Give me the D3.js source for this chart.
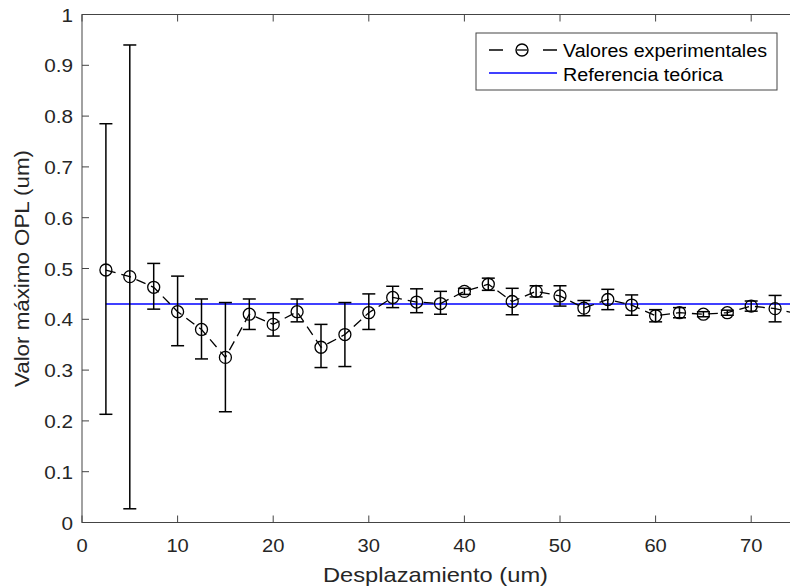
<!DOCTYPE html>
<html>
<head>
<meta charset="utf-8">
<script src="https://cdn.jsdelivr.net/npm/d3@7"></script>
<style>
  body { margin: 0; background: #fff; }
  text { font-family: "Liberation Sans", Arial, sans-serif; }
</style>
</head>
<body>
<div id="chart"></div>
<script>
const width = 790
const height = 587
const margin = { left: 82, top: 14, bottom: 64 }

// desplazamiento (um)
const desplazamiento = [2.5, 5, 7.5, 10, 12.5, 15, 17.5, 20, 22.5, 25, 27.5, 30, 32.5, 35, 37.5, 40,
    42.5, 45, 47.5, 50, 52.5, 55, 57.5, 60, 62.5, 65, 67.5, 70, 72.5, 75]
const valorMax = [0.497, 0.484, 0.463, 0.415, 0.38, 0.325, 0.41, 0.39, 0.415, 0.345, 0.37, 0.413, 0.443,
    0.434, 0.431, 0.455, 0.469, 0.435, 0.455, 0.446, 0.422, 0.439, 0.428, 0.407, 0.413, 0.41, 0.413, 0.426, 0.421, 0.41]
const errorSup = [0.785, 0.94, 0.51, 0.485, 0.44, 0.433, 0.44, 0.413, 0.44, 0.39, 0.433, 0.45, 0.465,
    0.46, 0.455, 0.461, 0.481, 0.461, 0.466, 0.466, 0.437, 0.459, 0.448, 0.419, 0.423, 0.415, 0.418, 0.436, 0.447, 0.43]
const errorInf = [0.213, 0.027, 0.42, 0.348, 0.322, 0.218, 0.38, 0.367, 0.395, 0.305, 0.307, 0.38, 0.423,
    0.413, 0.41, 0.449, 0.457, 0.409, 0.444, 0.426, 0.407, 0.419, 0.408, 0.395, 0.403, 0.405, 0.408, 0.416, 0.395, 0.39]
const referencia = 0.43
const xTicks = [0, 10, 20, 30, 40, 50, 60, 70]
const yTicks = [0, 0.1, 0.2, 0.3, 0.4, 0.5, 0.6, 0.7, 0.8, 0.9, 1]

const data = desplazamiento.map((d, i) => ({ x: d, y: valorMax[i], hi: errorSup[i], lo: errorInf[i] }))

const axisColor = "#444"
const textColor = "#262626"
const stretch = 1.12   // the original text is a bit wider than Liberation Sans

const svg = d3.select("#chart").append("svg").attr("width", width).attr("height", height)

// plot area runs past the right edge of the picture
var x = d3.scaleLinear().domain([0, 80]).range([margin.left, margin.left + 8 * 95.6])
var y = d3.scaleLinear().domain([0, 1]).range([height - margin.bottom - 0.5, margin.top + 0.5])

const x0 = x(0), x1 = x(80), yTop = y(1), yBot = y(0)

// box
svg.append("rect")
    .attr("x", x0).attr("y", yTop).attr("width", x1 - x0).attr("height", yBot - yTop)
    .attr("fill", "none").attr("stroke", axisColor).attr("stroke-width", 1)

// ticks
const tickLen = 7
svg.selectAll(".xt").data(xTicks).join("line")
    .attr("x1", d => x(d)).attr("x2", d => x(d)).attr("y1", yBot).attr("y2", yBot - tickLen)
    .attr("stroke", axisColor)
svg.selectAll(".xtt").data(xTicks).join("line")
    .attr("x1", d => x(d)).attr("x2", d => x(d)).attr("y1", yTop).attr("y2", yTop + tickLen)
    .attr("stroke", axisColor)
svg.selectAll(".yt").data(yTicks).join("line")
    .attr("x1", x0).attr("x2", x0 + tickLen).attr("y1", d => y(d)).attr("y2", d => y(d))
    .attr("stroke", axisColor)

svg.selectAll(".xl").data(xTicks).join("text")
    .attr("transform", d => `translate(${x(d)}, 552) scale(${stretch},1)`)
    .attr("text-anchor", "middle").attr("font-size", 18).attr("fill", textColor)
    .text(d => d)
svg.selectAll(".yl").data(yTicks).join("text")
    .attr("transform", d => `translate(73, ${y(d) + 7}) scale(${stretch},1)`)
    .attr("text-anchor", "end").attr("font-size", 18.5).attr("fill", textColor)
    .text(d => d)

svg.append("text")
    .attr("x", 435.5).attr("y", 582)
    .attr("text-anchor", "middle").attr("font-size", 21).attr("fill", textColor)
    .attr("textLength", 225).attr("lengthAdjust", "spacingAndGlyphs")
    .text("Desplazamiento (um)")
svg.append("text")
    .attr("transform", `translate(29, 268.5) rotate(-90)`)
    .attr("text-anchor", "middle").attr("font-size", 21).attr("fill", textColor)
    .attr("textLength", 237).attr("lengthAdjust", "spacingAndGlyphs")
    .text("Valor máximo OPL (um)")

const plot = svg.append("g")

// reference line
plot.append("line")
    .attr("x1", x(desplazamiento[0])).attr("x2", x1)
    .attr("y1", y(referencia)).attr("y2", y(referencia))
    .attr("stroke", "#0000ff").attr("stroke-width", 1.5)

// dashed connecting line
plot.append("path")
    .datum(data)
    .attr("d", d3.line().x(d => x(d.x)).y(d => y(d.y)))
    .attr("fill", "none").attr("stroke", "#000").attr("stroke-width", 1.3)
    .attr("stroke-dasharray", "10,6")

// error bars
const cap = 6.5
const eb = plot.selectAll(".eb").data(data).join("g")
eb.append("line")
    .attr("x1", d => x(d.x)).attr("x2", d => x(d.x))
    .attr("y1", d => y(d.hi)).attr("y2", d => y(d.lo))
    .attr("stroke", "#000").attr("stroke-width", 1.5)
eb.append("line")
    .attr("x1", d => x(d.x) - cap).attr("x2", d => x(d.x) + cap)
    .attr("y1", d => y(d.hi)).attr("y2", d => y(d.hi))
    .attr("stroke", "#000").attr("stroke-width", 1.5)
eb.append("line")
    .attr("x1", d => x(d.x) - cap).attr("x2", d => x(d.x) + cap)
    .attr("y1", d => y(d.lo)).attr("y2", d => y(d.lo))
    .attr("stroke", "#000").attr("stroke-width", 1.5)

// markers
plot.selectAll("circle").data(data).join("circle")
    .attr("cx", d => x(d.x)).attr("cy", d => y(d.y)).attr("r", 6)
    .attr("fill", "none").attr("stroke", "#000").attr("stroke-width", 1.3)

// legend
const lg = svg.append("g").attr("transform", "translate(476,33)")
lg.append("rect").attr("width", 301).attr("height", 57)
    .attr("fill", "#fff").attr("stroke", axisColor).attr("stroke-width", 1)
lg.append("line").attr("x1", 13).attr("x2", 27).attr("y1", 17).attr("y2", 17).attr("stroke", "#000").attr("stroke-width", 1.5)
lg.append("line").attr("x1", 67).attr("x2", 81).attr("y1", 17).attr("y2", 17).attr("stroke", "#000").attr("stroke-width", 1.5)
lg.append("circle").attr("cx", 46).attr("cy", 17).attr("r", 6).attr("fill", "none").attr("stroke", "#000").attr("stroke-width", 1.4)
lg.append("line").attr("x1", 46 - 5).attr("x2", 46 + 5).attr("y1", 17).attr("y2", 17).attr("stroke", "#000").attr("stroke-width", 1.3)
lg.append("line").attr("x1", 13).attr("x2", 81).attr("y1", 40).attr("y2", 40).attr("stroke", "#0000ff").attr("stroke-width", 1.5)
lg.append("text").attr("x", 87).attr("y", 24).attr("font-size", 18).attr("fill", "#000")
    .attr("textLength", 204).attr("lengthAdjust", "spacingAndGlyphs").text("Valores experimentales")
lg.append("text").attr("x", 87).attr("y", 48).attr("font-size", 18).attr("fill", "#000")
    .attr("textLength", 160).attr("lengthAdjust", "spacingAndGlyphs").text("Referencia teórica")
</script>
</body>
</html>
